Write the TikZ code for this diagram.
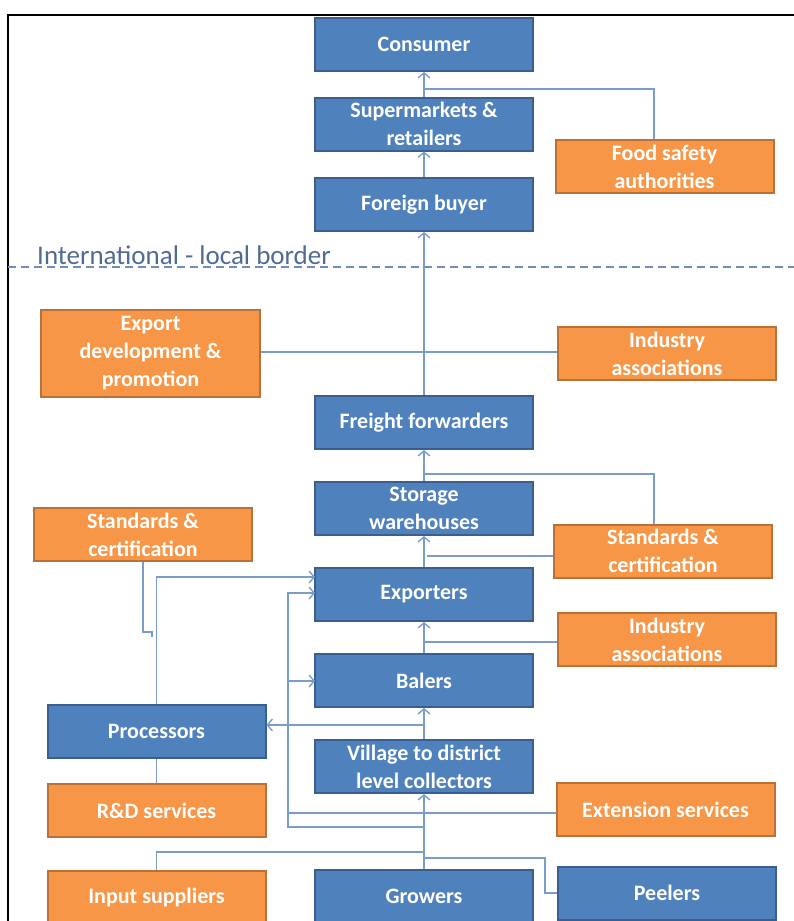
\documentclass[tikz,border=0pt]{standalone}
\usepackage{fontspec}
\setmainfont{Carlito}
\usetikzlibrary{arrows.meta,calc}
\definecolor{bfill}{HTML}{4F81BD}
\definecolor{bline}{HTML}{3A5F8E}
\definecolor{ofill}{HTML}{F79646}
\definecolor{oline}{HTML}{B9713A}
\definecolor{conncol}{HTML}{7A9CCB}
\definecolor{labcol}{HTML}{4F6A96}
\tikzset{
  boxbase/.style={draw, line width=2pt, minimum width=218pt, minimum height=53pt, inner sep=0pt,
    text=white, align=center, font=\bfseries\fontsize{22}{28}\selectfont},
  bluebox/.style={boxbase, fill=bfill, draw=bline},
  orangebox/.style={boxbase, fill=ofill, draw=oline},
  conn/.style={draw=conncol, line width=1.4pt},
  arr/.style={conn, -{Straight Barb[length=5pt,width=12pt]}},
}
\begin{document}
\begin{tikzpicture}[x=1pt,y=-1pt]
\useasboundingbox (0,0) rectangle (794,921);
\draw[line width=2.5pt] (8,925) -- (8,15) -- (798,15);

% boxes
\node[bluebox] (consumer) at (424,44.5) {Consumer};
\node[bluebox] (super) at (424,124) {Supermarkets \&\\retailers};
\node[bluebox] (foreign) at (424,204.5) {Foreign buyer};
\node[orangebox] (food) at (664.5,166.5) {Food safety\\authorities};
\node[orangebox, minimum width=219pt, minimum height=87pt] (exdev) at (150.5,353.5) {Export\\development \&\\promotion};
\node[orangebox] (indA) at (667,353.5) {Industry\\associations};
\node[bluebox] (freight) at (424,422.5) {Freight forwarders};
\node[bluebox] (storage) at (424,508.5) {Storage\\warehouses};
\node[orangebox] (stdL) at (143,534.5) {Standards \&\\certification};
\node[orangebox] (stdR) at (663,551) {Standards \&\\certification};
\node[bluebox] (exporters) at (424,594.5) {Exporters};
\node[orangebox] (indB) at (667,639.5) {Industry\\associations};
\node[bluebox] (balers) at (424,680.5) {Balers};
\node[bluebox] (processors) at (156.5,731.5) {Processors};
\node[bluebox] (collectors) at (424,766.5) {Village to district\\level collectors};
\node[orangebox] (rnd) at (156.5,810.5) {R\&D services};
\node[orangebox] (ext) at (665.5,809.5) {Extension services};
\node[orangebox] (input) at (156.5,897.5) {Input suppliers};
\node[bluebox] (growers) at (424,896.5) {Growers};
\node[bluebox] (peelers) at (667,893) {Peelers};

% border line
\draw[conncol!90!black, line width=1.5pt, dash pattern=on 8pt off 5pt] (8,267) -- (794,267);
\node[anchor=base west, inner sep=0pt, text=labcol, font=\fontsize{27}{30}\selectfont] (border) at (37,264) {International - local border};

% coordinates
\coordinate (jfood) at (424,89);
\coordinate (kfood) at (654,89);
\coordinate (jex) at (260,352);
\coordinate (jstdR) at (424,474);
\coordinate (kstdR) at (654,474);
\coordinate (jstdR2) at (427,556);
\coordinate (jib) at (424,642);
\coordinate (jp) at (424,725);
\coordinate (ex1) at (315,577);
\coordinate (ex2) at (315,593);
\coordinate (bal1) at (315,681);
\coordinate (lx) at (288,593);
\coordinate (lb) at (288,681);
\coordinate (kx) at (288,813);
\coordinate (jlow) at (424,827);
\coordinate (jin) at (424,852);
\coordinate (jpe) at (424,858);
\coordinate (pk) at (545,893);
\coordinate (sl1) at (152,632);
\coordinate (sl2) at (152,637);

% main column
\draw[arr] (super.north) -- (consumer.south);
\draw[arr] (foreign.north) -- (super.south);
\draw[arr] (freight.north) -- (foreign.south);
\draw[arr] (storage.north) -- (freight.south);
\draw[arr] (exporters.north) -- (storage.south);
\draw[arr] (balers.north) -- (exporters.south);
\draw[arr] (collectors.north) -- (balers.south);
\draw[arr] (growers.north) -- (collectors.south);

% side links
\draw[conn] (food.north -| kfood) -- (kfood) -- (jfood);
\draw[conn] (exdev.east |- jex) -- (indA.west |- jex);
\draw[conn] (stdR.north -| kstdR) -- (kstdR) -- (jstdR);
\draw[conn] (stdR.west |- jstdR2) -- (jstdR2);
\draw[conn] (indB.west |- jib) -- (jib);
\draw[arr] (jp) -- (processors.east |- jp);
\draw[arr] (processors.north) |- (ex1);
\draw[conn] (ext.west |- kx) -- (kx);
\draw[arr] (jlow) -| (lx) -- (ex2);
\draw[arr] (lb) -- (bal1);
\draw[conn] (stdL.south) |- (sl1) -- (sl2);
\draw[conn] (processors.south) -- (rnd.north);
\draw[conn] (input.north) |- (jin);
\draw[conn] (jpe) -| (pk) -- (peelers.west |- pk);
\end{tikzpicture}
\end{document}
